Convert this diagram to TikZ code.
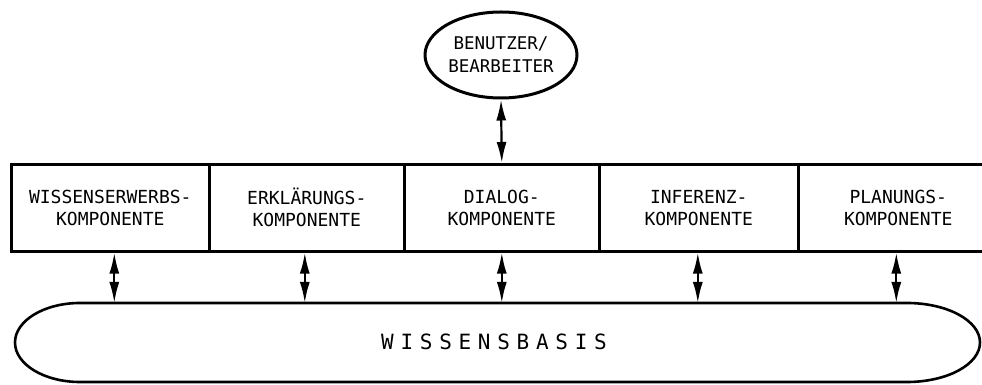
\documentclass[tikz,border=0pt]{standalone}
\usepackage{fontspec}
\newfontfamily\lett{DejaVu Sans Mono}
\newfontfamily\lettwide[LetterSpace=32]{DejaVu Sans Mono}
\usetikzlibrary{arrows.meta,shapes.geometric}
\begin{document}
\begin{tikzpicture}[x=1pt,y=1pt,
  comp/.style={draw,line width=2.6pt,rectangle,anchor=north west,minimum height=87pt,
    inner sep=0pt,align=center,font=\lett\fontsize{18}{22}\selectfont},
  user/.style={draw,line width=3pt,ellipse,minimum width=152pt,minimum height=86pt,
    inner sep=0pt,align=center,font=\lett\fontsize{17.5}{23}\selectfont},
  arr/.style={line width=2.2pt,{Latex[length=21pt,width=10pt]}-{Latex[length=21pt,width=10pt]}}]
\useasboundingbox (0,0) rectangle (982,385);
\node[user] (u) at (501,330) {BENUTZER/\\BEARBEITER};
\node[comp,minimum width=198pt] (b1) at (10,222) {WISSENSERWERBS-\\KOMPONENTE};
\node[comp,minimum width=195pt] (b2) at (208,222) {ERKLÄRUNGS-\\KOMPONENTE};
\node[comp,minimum width=195pt] (b3) at (403,222) {DIALOG-\\KOMPONENTE};
\node[comp,minimum width=199pt] (b4) at (598,222) {INFERENZ-\\KOMPONENTE};
\node[comp,minimum width=200pt] (b5) at (797,222) {PLANUNGS-\\KOMPONENTE};
\draw[line width=2.6pt] (80,82) -- (907,82) arc[start angle=90,end angle=-90,x radius=73,y radius=39.5]
  -- (80,3) arc[start angle=270,end angle=90,x radius=65,y radius=39.5] -- cycle;
\coordinate (kbtop) at (0,82);
\node[font=\lettwide\fontsize{21}{24}\selectfont] (kb) at (494,43) {WISSENSBASIS};
\draw[arr] (u.south) -- (b3.north);
\draw[arr] ([xshift=4pt]b1.south) -- ([xshift=4pt]b1.south |- kbtop);
\draw[arr] ([xshift=-2pt]b2.south) -- ([xshift=-2pt]b2.south |- kbtop);
\draw[arr] (b3.south) -- (b3.south |- kbtop);
\draw[arr] ([xshift=-1pt]b4.south) -- ([xshift=-1pt]b4.south |- kbtop);
\draw[arr] ([xshift=-2pt]b5.south) -- ([xshift=-2pt]b5.south |- kbtop);
\end{tikzpicture}
\end{document}
